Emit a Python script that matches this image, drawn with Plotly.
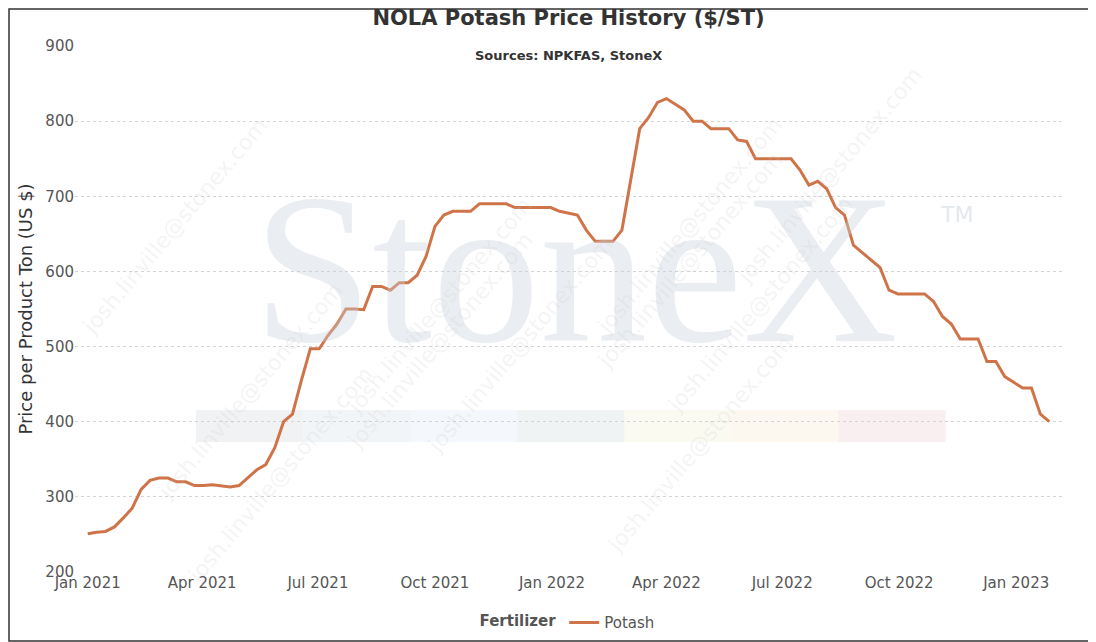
import plotly.graph_objects as go
import pandas as pd

start_date = "2021-01-01"
potash = [251,253,254,260,272,285,310,322,325,325,320,320,315,315,316,314,313,315,325,336,
          343,365,400,410,455,497,497,515,530,550,550,549,580,580,575,585,585,595,620,660,
          675,680,680,680,690,690,690,690,685,685,685,685,685,680,677,675,655,640,640,640,
          655,720,790,805,825,830,822,815,800,800,790,790,790,775,773,750,750,750,750,750,
          735,715,720,710,685,675,635,625,615,605,575,570,570,570,570,560,540,530,510,510,
          510,480,480,460,453,445,445,410,400]
dates = pd.date_range(start_date, periods=len(potash), freq="7D")
tick_vals = ["2021-01-01","2021-04-01","2021-07-01","2021-10-01","2022-01-01","2022-04-01","2022-07-01","2022-10-01","2023-01-01"]
tick_text = ["Jan 2021","Apr 2021","Jul 2021","Oct 2021","Jan 2022","Apr 2022","Jul 2022","Oct 2022","Jan 2023"]

PW, PH = 987.0, 526.0
def px(x): return (x - 75) / PW
def py(y): return (572 - y) / PH

fig = go.Figure()
fig.add_trace(go.Scatter(x=dates, y=potash, mode="lines", name="Potash",
                         line=dict(color="#CF7448", width=3)))

# watermark
fig.add_annotation(x=px(575), y=py(268), xref="paper", yref="paper", text="StoneX", showarrow=False,
                   font=dict(family="Liberation Serif", size=215, color="rgba(200,210,220,0.38)"))
fig.add_annotation(x=px(975), y=py(200), xref="paper", yref="paper", text="TM", showarrow=False,
                   font=dict(family="DejaVu Sans", size=22, color="rgba(200,210,220,0.5)"))
band_cols = ["rgba(205,212,220,0.3)","rgba(205,215,225,0.25)","rgba(210,225,240,0.25)","rgba(205,215,220,0.3)",
             "rgba(240,235,200,0.25)","rgba(245,225,190,0.25)","rgba(235,200,205,0.3)"]
for i, c in enumerate(band_cols):
    fig.add_shape(type="rect", xref="paper", yref="paper", x0=px(196+i*107.1), x1=px(196+(i+1)*107.1),
                  y0=py(442), y1=py(410), fillcolor=c, line_width=0, layer="below")
for (ax, ay) in [(75,110),(440,190),(790,110),(150,390),(440,340),(790,260),(520,460),(860,420),(180,590),(800,560),(930,60)]:
    fig.add_annotation(x=px(ax), y=py(ay), xref="paper", yref="paper", text="josh.linville@stonex.com",
                       showarrow=False, textangle=-50,
                       font=dict(family="DejaVu Sans", size=22, color="rgba(200,200,200,0.2)"))

fig.update_layout(
    width=1088, height=634, paper_bgcolor="white", plot_bgcolor="white",
    margin=dict(l=67, r=34, t=38, b=70, autoexpand=False),
    title=dict(text="<b>NOLA Potash Price History ($/ST)</b>", x=0.5, xanchor="center", xref="paper",
               y=0.997, yanchor="top", font=dict(family="DejaVu Sans", size=21, color="#333")),
    font=dict(family="DejaVu Sans", color="#555", size=14),
    showlegend=True,
    legend=dict(orientation="h", x=0.5, xanchor="center", y=-0.065, yanchor="top",
                title=dict(text="<b>Fertilizer</b>", font=dict(size=15, color="#555")),
                font=dict(size=15, color="#555")),
    xaxis=dict(range=["2020-12-22","2023-02-06"], tickvals=tick_vals, ticktext=tick_text, automargin=False,
               showgrid=False, zeroline=False, showline=False, tickfont=dict(size=15, color="#555")),
    yaxis=dict(range=[200,900], dtick=100, showgrid=True, gridcolor="#d4d4d4", griddash="dot", automargin=False,
               zeroline=False, title=dict(text="Price per Product Ton (US $)", standoff=8, font=dict(size=18, color="#333")),
               tickfont=dict(size=15, color="#555")),
)
fig.add_annotation(x=0.5, y=py(46), xref="paper", yref="paper", text="<b>Sources: NPKFAS, StoneX</b>",
                   showarrow=False, font=dict(size=13, color="#333"))
fig.add_shape(type="rect", xref="paper", yref="paper", x0=px(9), x1=px(1095), y0=py(641), y1=py(9),
              line=dict(color="#333", width=1.5), layer="above")
fig.write_html("out.html")
